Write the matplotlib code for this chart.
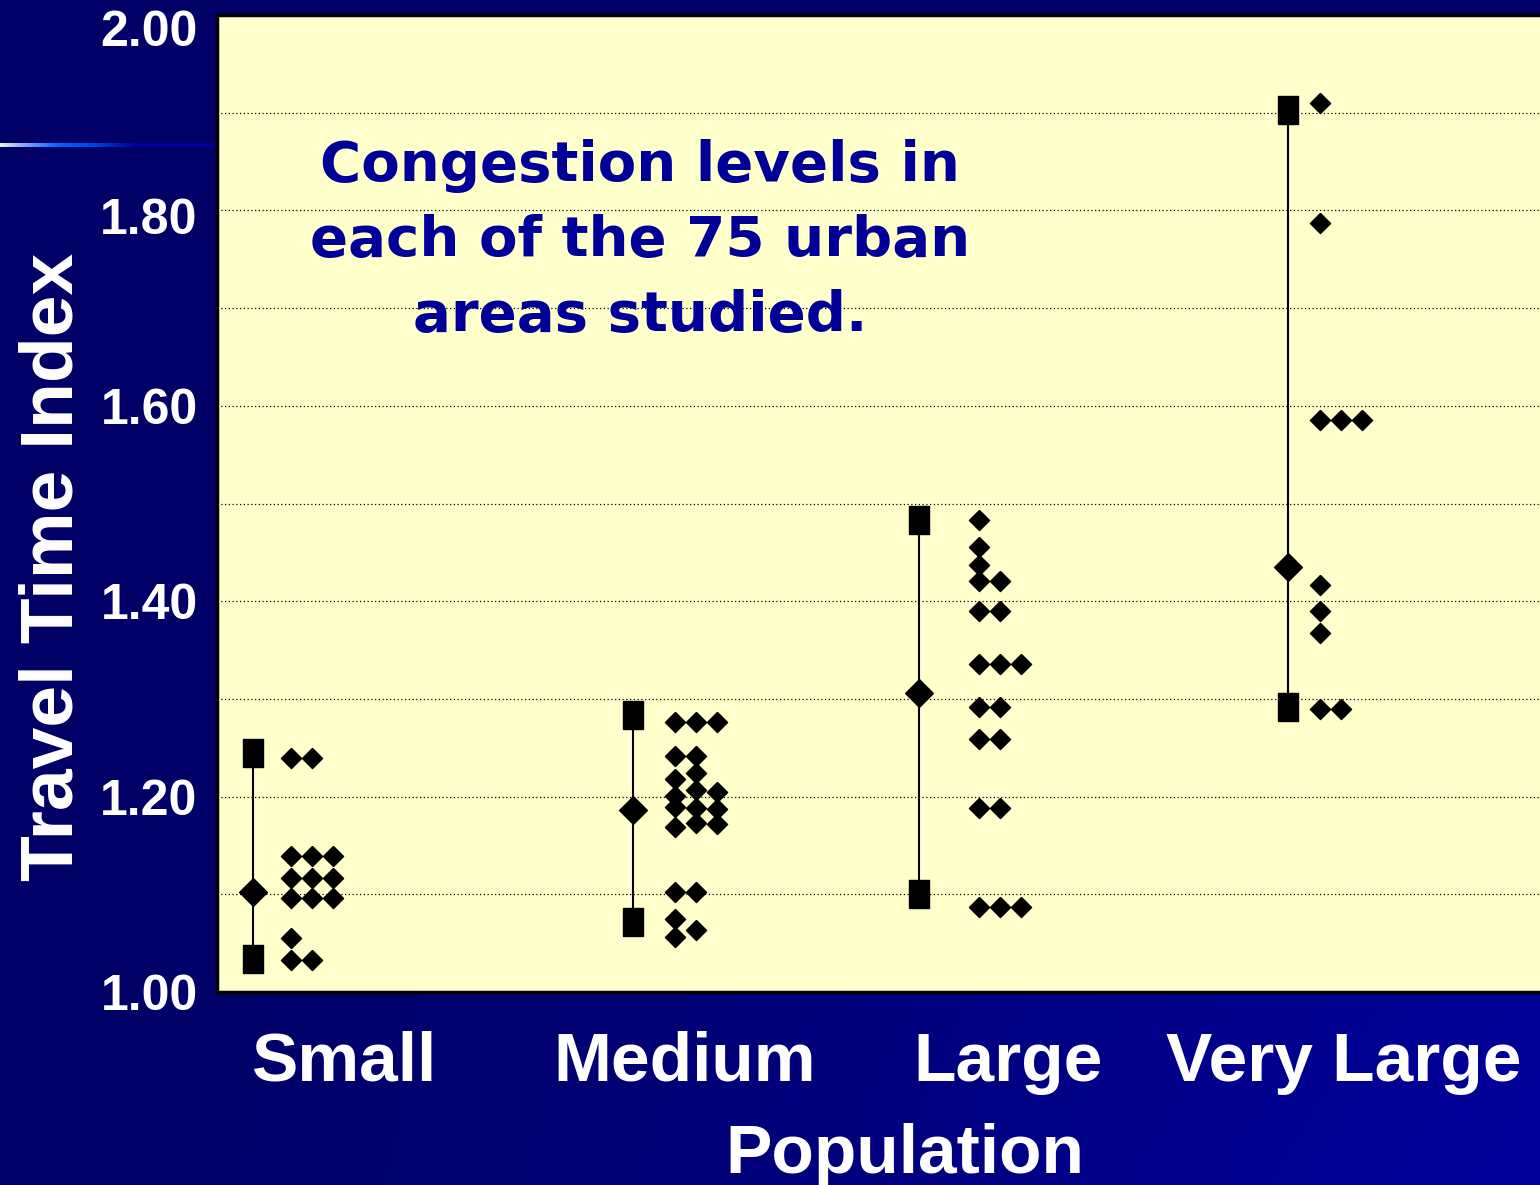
import numpy as np
import matplotlib.pyplot as plt
from matplotlib.colors import to_rgb
from matplotlib.transforms import ScaledTranslation

plt.rcParams['font.family'] = 'Liberation Sans'
plt.rcParams['font.weight'] = 'bold'

categories = ["Small", "Medium", "Large", "Very Large"]

# range markers per group: low square, median diamond, high square
range_low = [1.034, 1.072, 1.100, 1.292]
range_mid = [1.102, 1.186, 1.306, 1.435]
range_high = [1.245, 1.284, 1.483, 1.903]

# travel time index of each urban area, and which column of the dot stack it sits in
small_tti = [1.240, 1.240, 1.139, 1.139, 1.139, 1.117, 1.117, 1.117,
             1.096, 1.096, 1.096, 1.055, 1.033, 1.033]
small_col = [0, 1, 0, 1, 2, 0, 1, 2, 0, 1, 2, 0, 0, 1]

medium_tti = [1.276, 1.276, 1.276, 1.242, 1.242, 1.218, 1.224, 1.201, 1.207, 1.205,
              1.189, 1.188, 1.187, 1.169, 1.173, 1.172, 1.102, 1.102, 1.075, 1.063, 1.056]
medium_col = [0, 1, 2, 0, 1, 0, 1, 0, 1, 2,
              0, 1, 2, 0, 1, 2, 0, 1, 0, 1, 0]

large_tti = [1.483, 1.455, 1.437, 1.421, 1.421, 1.390, 1.390, 1.336, 1.336, 1.336,
             1.292, 1.292, 1.259, 1.259, 1.188, 1.188, 1.087, 1.087, 1.087]
large_col = [0, 0, 0, 0, 1, 0, 1, 0, 1, 2,
             0, 1, 0, 1, 0, 1, 0, 1, 2]

vlarge_tti = [1.910, 1.787, 1.585, 1.585, 1.585, 1.417, 1.390, 1.367, 1.290, 1.290]
vlarge_col = [0, 0, 0, 1, 2, 0, 0, 0, 0, 1]

groups_tti = [small_tti, medium_tti, large_tti, vlarge_tti]
groups_col = [small_col, medium_col, large_col, vlarge_col]

# where things sit relative to each category center (category units)
line_off = [-0.276, -0.135, -0.276, -0.168]
dots_off = [-0.162, -0.009, -0.096, -0.072]
label_off = [0.0, 0.02, -0.009, 0.0]
col_step = 0.063

W, H = 1540, 1185
fig = plt.figure(figsize=(W / 100, H / 100), dpi=100)

# slide background, dark navy getting lighter to the lower right
bg = fig.add_axes([0, 0, 1, 1], zorder=-10)
gx = np.linspace(0, 1, 300)
gy = np.linspace(0, 1, 240)
XX, YY = np.meshgrid(gx, gy)
t = (XX ** 1.4) * (YY ** 0.7)
dark = np.array(to_rgb('#000066'))
light = np.array(to_rgb('#00009e'))
img = dark + t[..., None] * (light - dark)
bg.imshow(img, aspect='auto', extent=[0, 1, 0, 1], origin='upper')
bg.axis('off')

# thin glowing rule on the left of the slide
rule = fig.add_axes([0, 1 - 147.5 / H, 215 / W, 5 / H], zorder=-5)
stops = [0.0, 0.12, 0.27, 0.45, 0.62, 1.0]
cols = ['#f0f0d0', '#7fa0ff', '#0066ff', '#0040dd', '#000099', '#000099']
rx = np.linspace(0, 1, 215)
rimg = np.zeros((1, 215, 3))
for k in range(3):
    rimg[0, :, k] = np.interp(rx, stops, [to_rgb(c)[k] for c in cols])
rule.imshow(rimg, aspect='auto', extent=[0, 1, 0, 1])
rule.axis('off')

ax = fig.add_axes([217 / W, 1 - 992 / H, 0.87, 977 / H])
ax.set_facecolor('#ffffcc')
ax.set_ylim(1.0, 2.0)
ax.set_xlim(-128 / 333, (217 + 0.87 * W - 345) / 333)

rect = [(-0.37, -0.5), (0.37, -0.5), (0.37, 0.5), (-0.37, 0.5), (-0.37, -0.5)]
diamond = [(0, 1), (1, 0), (0, -1), (-1, 0), (0, 1)]

for i in range(len(categories)):
    xl = i + line_off[i]
    ax.plot([xl, xl], [range_low[i], range_high[i]], color='black', lw=1.5, zorder=3)
    ax.plot([xl, xl], [range_low[i], range_high[i]], linestyle='none', marker=rect,
            markersize=19.5, color='black', zorder=4)
    ax.plot([xl], [range_mid[i]], linestyle='none', marker=diamond,
            markersize=20, color='black', zorder=4)
    xs = [i + dots_off[i] + c * col_step for c in groups_col[i]]
    ax.plot(xs, groups_tti[i], linestyle='none', marker=diamond,
            markersize=14.5, color='black', zorder=4)

yt = np.arange(1.0, 2.01, 0.2)
ax.set_yticks(yt)
ax.set_yticks(np.arange(1.1, 2.0, 0.2), minor=True)
ax.set_yticklabels(['%.2f' % v for v in yt])
ax.yaxis.grid(True, which='both', color='black', linestyle=(0, (1, 2)), linewidth=0.9)
ax.set_axisbelow(True)
ax.tick_params(axis='y', which='both', length=0, pad=14, labelsize=36, labelcolor='white')
# the two top labels sit a little lower than their gridlines
for lab, dy in zip(ax.get_yticklabels()[-2:], [-6, -13]):
    lab.set_transform(lab.get_transform() + ScaledTranslation(0, dy / 100, fig.dpi_scale_trans))

ax.set_xticks([i + label_off[i] for i in range(len(categories))])
ax.set_xticklabels(categories)
ax.tick_params(axis='x', length=0, pad=28, labelsize=50, labelcolor='white')

for s in ['left', 'top', 'bottom']:
    ax.spines[s].set_color('black')
    ax.spines[s].set_linewidth(2.5)
ax.spines['right'].set_visible(False)

ax.text(640 / W, 1 - 241 / H,
        "Congestion levels in\neach of the 75 urban\nareas studied.",
        transform=fig.transFigure, ha='center', va='center', multialignment='center',
        fontsize=40.5, color='#000099', fontweight='bold', family='DejaVu Sans',
        linespacing=1.5)

fig.text(53 / W, 1 - 567 / H, "Travel Time Index", rotation=90, ha='center', va='center',
         fontsize=54, color='white', fontweight='bold')
fig.text(905 / W, 1 - 1155 / H, "Population", ha='center', va='center',
         fontsize=50, color='white', fontweight='bold')

fig.savefig('out.png', dpi=100)
